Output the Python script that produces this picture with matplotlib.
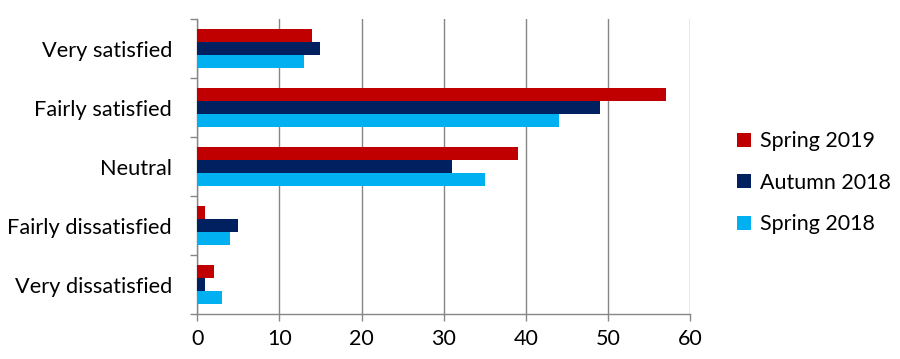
import matplotlib.pyplot as plt
import numpy as np

categories = ['Very satisfied', 'Fairly satisfied', 'Neutral',
              'Fairly dissatisfied', 'Very dissatisfied']
series_names = ['Spring 2019', 'Autumn 2018', 'Spring 2018']
spring_2019 = [14, 57, 39, 1, 2]
autumn_2018 = [15, 49, 31, 5, 1]
spring_2018 = [13, 44, 35, 4, 3]
colors = ['#C00000', '#002060', '#00B0F0']
x_ticks = [0, 10, 20, 30, 40, 50, 60]

plt.rcParams['font.family'] = ['Lato', 'DejaVu Sans']

fig = plt.figure(figsize=(9, 3.59), dpi=100)
ax = fig.add_axes([0.219, 0.125, 0.548, 0.822])

y = np.arange(len(categories))
h = 0.219
for i, (vals, name, c) in enumerate(zip([spring_2019, autumn_2018, spring_2018], series_names, colors)):
    ax.barh(y + (i - 1) * h, vals, height=h, color=c, label=name, zorder=3)

ax.set_ylim(len(categories) - 0.5, -0.5)
ax.set_xlim(0, 60)
ax.set_yticks(y)
ax.set_yticklabels(categories, fontsize=15.7)
ax.set_yticks(np.arange(-0.5, len(categories)), minor=True)
ax.tick_params(axis='y', which='major', length=0, pad=18)
ax.tick_params(axis='y', which='minor', length=5, width=1, color='#868686')
ax.set_xticks(x_ticks)
ax.tick_params(axis='x', labelsize=15.5, length=5, width=1, color='#868686', pad=6)
ax.grid(axis='x', color='#868686', linewidth=1, zorder=0)

for side in ['top', 'right']:
    ax.spines[side].set_visible(False)
for side in ['left', 'bottom']:
    ax.spines[side].set_color('#868686')
    ax.spines[side].set_linewidth(1)

leg = ax.legend(loc='center left', bbox_to_anchor=(1.095, 0.445), frameon=False,
                fontsize=15.5, handlelength=0.65, handleheight=0.65,
                handletextpad=0.4, labelspacing=1.0, borderaxespad=0, borderpad=0)

fig.savefig('out.png')
